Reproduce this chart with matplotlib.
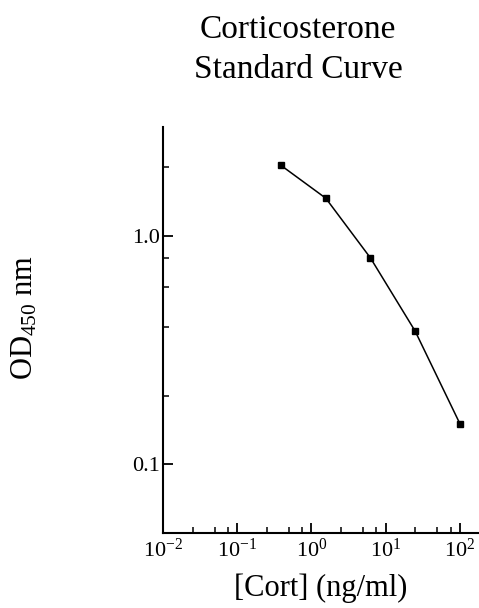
import numpy as np
import matplotlib
matplotlib.use('Agg')
import matplotlib.pyplot as plt
from matplotlib.ticker import FixedLocator, FixedFormatter, LogFormatterSciNotation, NullFormatter

plt.rcParams['font.family'] = ['Liberation Serif', 'DejaVu Serif']
plt.rcParams['mathtext.fontset'] = 'custom'
plt.rcParams['mathtext.rm'] = 'Liberation Serif'
plt.rcParams['mathtext.it'] = 'Liberation Serif:italic'
plt.rcParams['mathtext.bf'] = 'Liberation Serif:bold'

# standard curve data (4-fold dilutions)
cort_conc = [0.390625, 1.5625, 6.25, 25, 100]
od_450 = [2.03, 1.46, 0.80, 0.383, 0.151]

y_major = [0.1, 1.0]
y_major_labels = ['0.1', '1.0']
y_minor = [0.2, 0.4, 0.6, 0.8, 2.0]
x_major = [1e-2, 1e-1, 1e0, 1e1, 1e2]
x_minor = [m * d for d in [1e-2, 1e-1, 1e0, 1e1] for m in (2.5, 5, 7.5)]

fig = plt.figure(figsize=(4.79, 6.08), dpi=100)
ax = fig.add_axes([163 / 479, 1 - 533.3 / 608, (478 - 163) / 479, (533.3 - 126.7) / 608])

ax.plot(cort_conc, od_450, color='black', lw=1.1, marker='s', ms=4.5,
        markerfacecolor='black', markeredgecolor='black')

ax.set_xscale('log')
ax.set_yscale('log')
ax.set_xlim(0.01, 10 ** 2.245)
ax.set_ylim(0.05, 3.0)

ax.yaxis.set_major_locator(FixedLocator(y_major))
ax.yaxis.set_major_formatter(FixedFormatter(y_major_labels))
ax.yaxis.set_minor_locator(FixedLocator(y_minor))
ax.yaxis.set_minor_formatter(NullFormatter())
ax.xaxis.set_major_locator(FixedLocator(x_major))
ax.xaxis.set_major_formatter(LogFormatterSciNotation())
ax.xaxis.set_minor_locator(FixedLocator(x_minor))
ax.xaxis.set_minor_formatter(NullFormatter())

for s in ['top', 'right']:
    ax.spines[s].set_visible(False)
for s in ['left', 'bottom']:
    ax.spines[s].set_linewidth(1.5)

ax.tick_params(which='major', direction='in', length=7, width=1.3, labelsize=16)
ax.tick_params(which='minor', direction='in', length=4, width=1.1)
ax.tick_params(axis='y', which='major', pad=2)
ax.tick_params(axis='x', which='major', pad=4)

fig.text(298 / 479, 1 - 30 / 608, 'Corticosterone', ha='center', va='center', fontsize=24)
fig.text(298 / 479, 1 - 70 / 608, 'Standard Curve', ha='center', va='center', fontsize=24)
fig.text(25 / 479, 1 - 317 / 608, 'OD$_{450}$ nm', rotation=90, ha='center', va='center',
         fontsize=22)
fig.text(321 / 479, 1 - 588 / 608, '[Cort] (ng/ml)', ha='center', va='center', fontsize=22)

fig.savefig('out.png', dpi=100)
